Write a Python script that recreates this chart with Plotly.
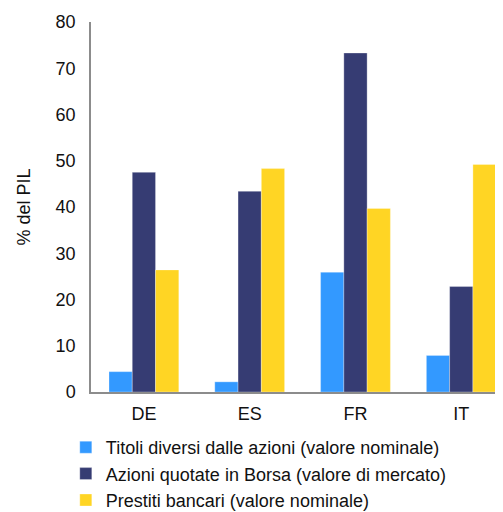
import plotly.graph_objects as go

countries = ["DE", "ES", "FR", "IT"]
series_names = [
    "Titoli diversi dalle azioni (valore nominale)",
    "Azioni quotate in Borsa (valore di mercato)",
    "Prestiti bancari (valore nominale)",
]
titoli = [4.4, 2.2, 25.9, 7.9]
azioni = [47.5, 43.4, 73.3, 22.8]
prestiti = [26.4, 48.3, 39.7, 49.2]
colors = ["#3399FF", "#363C73", "#FFD524"]
y_ticks = [0, 10, 20, 30, 40, 50, 60, 70, 80]

fig = go.Figure()
for i, (name, vals) in enumerate(zip(series_names, [titoli, azioni, prestiti])):
    fig.add_trace(go.Bar(
        x=countries, y=vals, name=name, legendgroup=str(i),
        marker=dict(color=colors[i], line=dict(width=0.6, color="rgba(255,255,255,0.5)")),
    ))

fig.update_layout(
    width=503, height=512,
    margin=dict(l=83, r=0, t=14, b=128),
    plot_bgcolor="white", paper_bgcolor="white",
    barmode="group", bargap=0.34, bargroupgap=0,
    font=dict(family="Liberation Sans, Arial, sans-serif", size=18, color="#111111"),
    showlegend=True,
    legend=dict(x=-0.06, y=-0.1, xanchor="left", yanchor="top",
                tracegroupgap=0, itemwidth=30, font=dict(size=18),
                bgcolor="rgba(0,0,0,0)"),
    xaxis=dict(range=[-0.5, 3.47], showline=True, linecolor="#8c8c8c", linewidth=1.5,
               ticks="outside", ticklen=5, tickcolor="rgba(0,0,0,0)",
               showgrid=False, zeroline=False),
    yaxis=dict(range=[0, 80], tickvals=y_ticks, showline=True, linecolor="#8c8c8c",
               linewidth=1.5, ticks="outside", ticklen=10, tickcolor="rgba(0,0,0,0)",
               showgrid=False, zeroline=False,
               title=dict(text="% del PIL", standoff=20, font=dict(size=18))),
)

fig.write_html("out.html")
